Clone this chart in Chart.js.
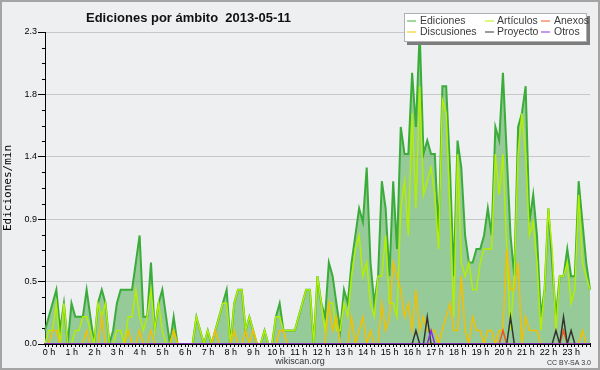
<!DOCTYPE html>
<html>
<head>
<meta charset="utf-8">
<script src="https://cdn.jsdelivr.net/npm/chart.js@4.4.1/dist/chart.umd.min.js"></script>
<style>
  html, body { margin: 0; padding: 0; background: #eeeff1; }
  canvas { display: block; }
</style>
</head>
<body>
<canvas id="chart" width="600" height="370"></canvas>
<script>
// ===============================
// DATA (edits per minute, one point every 10 min)
// ===============================

const titleText = 'Ediciones por ámbito  2013-05-11';

const hourLabels = [
    '0 h', '1 h', '2 h', '3 h', '4 h', '5 h', '6 h', '7 h', '8 h', '9 h', '10 h', '11 h',
    '12 h', '13 h', '14 h', '15 h', '16 h', '17 h', '18 h', '19 h', '20 h', '21 h', '22 h', '23 h'
];

const yMax = 2.3;
const yTickLabels = ['0.0', '0.5', '0.9', '1.4', '1.8', '2.3'];

const ediciones = [
    0.1, 0.2, 0.3, 0.4, 0.1, 0.3, 0, 0.3, 0.2, 0.2, 0.2, 0.4,
    0.2, 0, 0.3, 0.4, 0.3, 0, 0.1, 0.3, 0.4, 0.4, 0.4, 0.4,
    0.6, 0.8, 0.2, 0.2, 0.6, 0.1, 0.3, 0.4, 0.2, 0, 0.2, 0,
    0, 0, 0, 0, 0.2, 0.1, 0, 0.1, 0, 0.1, 0.2, 0.3,
    0.4, 0, 0.3, 0.4, 0.4, 0.1, 0.2, 0.1, 0, 0, 0.1, 0,
    0, 0.2, 0.3, 0.1, 0.1, 0.1, 0.1, 0.2, 0.3, 0.4, 0.4, 0,
    0.5, 0.3, 0.2, 0.6, 0.5, 0.3, 0.1, 0.4, 0.3, 0.6, 0.8, 1.0,
    0.9, 1.3, 0.6, 0.3, 0.5, 1.2, 1.0, 0.5, 1.2, 0.7, 1.6, 1.4,
    1.4, 2.0, 1.6, 2.3, 1.4, 1.5, 1.4, 1.4, 0.8, 1.9, 1.9, 1.3,
    0.5, 1.5, 1.3, 0.8, 0.6, 0.6, 0.7, 0.7, 0.8, 1.0, 0.8, 1.6,
    1.5, 2.0, 1.4, 0.8, 0.5, 1.6, 1.7, 1.9, 0.9, 1.1, 0.8, 0.2,
    0.4, 1.0, 0.6, 0.2, 0.5, 0.5, 0.7, 0.5, 0.5, 1.2, 0.9, 0.6,
    0.4
];

const articulos = [
    0, 0.1, 0.1, 0.3, 0, 0.3, 0, 0, 0.1, 0.1, 0.2, 0.2,
    0.1, 0, 0.3, 0.2, 0.3, 0, 0, 0.1, 0.1, 0, 0.2, 0.2,
    0.4, 0.2, 0.1, 0.2, 0.4, 0.1, 0.3, 0.1, 0, 0, 0.1, 0,
    0, 0, 0, 0, 0.2, 0.1, 0, 0.1, 0, 0.1, 0.2, 0.3,
    0.3, 0, 0.3, 0.4, 0.4, 0.1, 0.2, 0.1, 0, 0, 0.1, 0,
    0, 0.2, 0.2, 0.1, 0.1, 0.1, 0.1, 0.2, 0.3, 0.4, 0.4, 0,
    0.5, 0.3, 0.1, 0.3, 0.3, 0.1, 0.1, 0.3, 0.2, 0.5, 0.7, 0.8,
    0.5, 0.6, 0.3, 0.2, 0.5, 0.5, 0.8, 0.3, 0.3, 0.2, 1.0, 1.2,
    0.8, 1.7, 1.0, 1.9, 1.1, 1.2, 1.3, 1.1, 0.7, 1.8, 1.7, 1.0,
    0.2, 1.4, 0.6, 0.5, 0.6, 0.4, 0.4, 0.6, 0.7, 0.7, 0.7, 1.4,
    1.1, 1.4, 0.7, 0.1, 0.5, 1.4, 1.7, 1.4, 0.8, 0.9, 0.6, 0.1,
    0.4, 1.0, 0.7, 0.1, 0.5, 0.5, 0.6, 0.3, 0.4, 1.1, 0.6, 0.5,
    0.4
];

const discusiones = [
    0, 0, 0.1, 0.1, 0, 0, 0, 0, 0, 0, 0, 0.1,
    0, 0, 0, 0.2, 0, 0, 0, 0, 0, 0, 0.1, 0,
    0, 0.1, 0, 0, 0.1, 0, 0, 0, 0, 0, 0.1, 0,
    0, 0, 0, 0, 0, 0, 0, 0, 0, 0.1, 0, 0,
    0, 0, 0.1, 0, 0, 0.1, 0, 0.1, 0, 0, 0, 0,
    0, 0, 0.1, 0.1, 0, 0, 0, 0, 0, 0, 0, 0,
    0, 0, 0, 0.3, 0.1, 0.2, 0, 0, 0, 0.2, 0, 0.1,
    0.2, 0, 0.1, 0, 0, 0.3, 0.1, 0.2, 0.6, 0.5, 0.4, 0.2,
    0.3, 0.1, 0.4, 0.1, 0.2, 0.1, 0.1, 0.1, 0, 0.1, 0.2, 0.3,
    0.1, 0.1, 0.5, 0.1, 0, 0.2, 0.1, 0.1, 0, 0.1, 0.1, 0,
    0.1, 0.1, 0.7, 0.4, 0.4, 0.6, 0, 0.2, 0.1, 0.1, 0.1, 0,
    0, 0, 0, 0, 0, 0, 0, 0, 0, 0, 0.1, 0,
    0
];

const anexos = [
    0, 0, 0, 0, 0, 0, 0, 0, 0, 0, 0, 0,
    0, 0, 0, 0, 0, 0, 0, 0, 0, 0, 0, 0,
    0, 0, 0, 0, 0, 0, 0, 0, 0, 0, 0, 0,
    0, 0, 0, 0, 0, 0, 0, 0, 0, 0, 0, 0,
    0, 0, 0, 0, 0, 0, 0, 0, 0, 0, 0, 0,
    0, 0, 0, 0, 0, 0, 0, 0, 0, 0, 0, 0,
    0, 0, 0, 0, 0, 0, 0, 0, 0, 0, 0, 0,
    0, 0, 0, 0, 0, 0, 0, 0, 0, 0, 0, 0,
    0, 0, 0, 0, 0, 0, 0, 0, 0, 0, 0, 0,
    0, 0, 0, 0, 0, 0, 0, 0, 0, 0, 0, 0,
    0, 0.1, 0, 0, 0, 0, 0, 0, 0, 0, 0, 0,
    0, 0, 0, 0, 0, 0.1, 0, 0, 0, 0, 0, 0,
    0
];

const proyecto = [
    0, 0, 0, 0, 0, 0, 0, 0, 0, 0, 0, 0,
    0, 0, 0, 0, 0, 0, 0, 0, 0, 0, 0, 0,
    0, 0, 0, 0, 0, 0, 0, 0, 0, 0, 0, 0,
    0, 0, 0, 0, 0, 0, 0, 0, 0, 0, 0, 0,
    0, 0, 0, 0, 0, 0, 0, 0, 0, 0, 0, 0,
    0, 0, 0, 0, 0, 0, 0, 0, 0, 0, 0, 0,
    0, 0, 0, 0, 0, 0, 0, 0, 0, 0, 0, 0,
    0, 0, 0, 0, 0, 0, 0, 0, 0, 0, 0, 0,
    0, 0, 0.1, 0, 0, 0.2, 0, 0, 0, 0, 0, 0,
    0, 0, 0, 0, 0, 0, 0, 0, 0, 0, 0, 0,
    0, 0, 0, 0.2, 0, 0, 0, 0, 0, 0, 0, 0,
    0, 0, 0, 0.1, 0, 0.2, 0, 0.1, 0, 0, 0, 0,
    0
];

const otros = [
    0, 0, 0, 0, 0, 0, 0, 0, 0, 0, 0, 0,
    0, 0, 0, 0, 0, 0, 0, 0, 0, 0, 0, 0,
    0, 0, 0, 0, 0, 0, 0, 0, 0, 0, 0, 0,
    0, 0, 0, 0, 0, 0, 0, 0, 0, 0, 0, 0,
    0, 0, 0, 0, 0, 0, 0, 0, 0, 0, 0, 0,
    0, 0, 0, 0, 0, 0, 0, 0, 0, 0, 0, 0,
    0, 0, 0, 0, 0, 0, 0, 0, 0, 0, 0, 0,
    0, 0, 0, 0, 0, 0, 0, 0, 0, 0, 0, 0,
    0, 0, 0, 0, 0, 0, 0.1, 0, 0, 0, 0, 0,
    0, 0, 0, 0, 0, 0, 0, 0, 0, 0, 0, 0,
    0, 0, 0, 0, 0, 0, 0, 0, 0, 0, 0, 0,
    0, 0, 0, 0, 0, 0, 0, 0, 0, 0, 0, 0,
    0
];


// ===============================
// LABELS (one slot per 10 min, hour name on the hour)
// ===============================

let xLabels = ediciones.map((v, i) => {
    if (i % 6 === 0 && i / 6 < hourLabels.length) return hourLabels[i / 6];
    return '';
});

const FONT = '"Liberation Sans", Arial, sans-serif';

Chart.defaults.font.family = FONT;
Chart.defaults.color = '#000';


// ===============================
// DECORATION: background, frame, title, legend, footer
// ===============================

const legendSlots = [
    { ds: 0, col: 0, row: 0 },
    { ds: 1, col: 1, row: 0 },
    { ds: 3, col: 2, row: 0 },
    { ds: 2, col: 0, row: 1 },
    { ds: 4, col: 1, row: 1 },
    { ds: 5, col: 2, row: 1 }
];

const decor = {
    id: 'decor',

    beforeDraw(chart) {
        const ctx = chart.ctx;
        ctx.save();
        ctx.fillStyle = '#eeeff1';
        ctx.fillRect(0, 0, chart.width, chart.height);
        ctx.restore();
    },

    afterDraw(chart) {
        const ctx = chart.ctx;
        const yScale = chart.scales.y;
        ctx.save();

        // minor y ticks (4 per labelled step)
        ctx.strokeStyle = '#000';
        ctx.lineWidth = 1;
        ctx.beginPath();
        for (let k = 1; k < 20; k++) {
            if (k % 4 === 0) continue;
            const py = Math.round(yScale.getPixelForValue(yMax * k / 20)) + 0.5;
            ctx.moveTo(yScale.right - 3, py);
            ctx.lineTo(yScale.right, py);
        }
        ctx.stroke();

        // frame
        ctx.strokeStyle = '#a4a4a4';
        ctx.lineWidth = 2;
        ctx.strokeRect(1, 1, chart.width - 2, chart.height - 2);

        // title
        ctx.fillStyle = '#111';
        ctx.font = 'bold 13px ' + FONT;
        ctx.textBaseline = 'alphabetic';
        ctx.textAlign = 'left';
        ctx.fillText(titleText, 86, 22, 205);

        // legend box + shadow
        ctx.fillStyle = '#7d7d7d';
        ctx.fillRect(407, 16, 183, 29);
        ctx.fillStyle = '#ffffff';
        ctx.fillRect(404, 13, 183, 29);
        ctx.strokeStyle = '#b0b0b0';
        ctx.lineWidth = 1;
        ctx.strokeRect(404.5, 13.5, 182, 28);

        const colLine = [407, 485, 541];
        const colText = [420, 497, 554];
        const rowY = [21, 32];

        ctx.font = '10.5px ' + FONT;
        ctx.textBaseline = 'middle';
        legendSlots.forEach(s => {
            const ds = chart.data.datasets[s.ds];
            const y = rowY[s.row];
            ctx.globalAlpha = 0.65;
            ctx.strokeStyle = ds.borderColor;
            ctx.lineWidth = 1.5;
            ctx.beginPath();
            ctx.moveTo(colLine[s.col], y);
            ctx.lineTo(colLine[s.col] + 9, y);
            ctx.stroke();
            ctx.globalAlpha = 1;
            ctx.fillStyle = '#3a3a3a';
            ctx.fillText(ds.label, colText[s.col], y);
        });

        // footer
        ctx.fillStyle = '#333';
        ctx.textBaseline = 'alphabetic';
        ctx.textAlign = 'center';
        ctx.font = '9px ' + FONT;
        ctx.fillText('wikiscan.org', 300, 364);
        ctx.textAlign = 'right';
        ctx.font = '7px ' + FONT;
        ctx.fillText('CC BY-SA 3.0', 591, 365);

        ctx.restore();
    }
};


// ===============================
// CHART SETUP
// ===============================

const ctx = document.getElementById('chart').getContext('2d');

function lineSet(label, data, color, order, width) {
    return {
        label: label,
        data: data,
        borderColor: color,
        borderWidth: width,
        pointRadius: 0,
        tension: 0,
        fill: false,
        order: order
    };
}

let chart = new Chart(ctx, {

    type: 'line',

    data: {
        labels: xLabels,

        datasets: [
            {
                label: 'Ediciones',
                data: ediciones,
                borderColor: '#3aac3a',
                backgroundColor: 'rgba(80, 172, 80, 0.55)',
                borderWidth: 2,
                pointRadius: 0,
                tension: 0,
                fill: 'origin',
                order: 6
            },
            lineSet('Artículos', articulos, '#b2ef00', 5, 1.5),
            lineSet('Discusiones', discusiones, '#f2c000', 4, 1.5),
            lineSet('Anexos', anexos, '#f0561c', 3, 1.5),
            lineSet('Proyecto', proyecto, '#333333', 2, 1.5),
            lineSet('Otros', otros, '#8a2be2', 1, 1.5)
        ]
    },

    options: {
        responsive: false,
        animation: false,
        devicePixelRatio: 1,
        layout: {
            padding: { top: 32, right: 10, left: 0, bottom: 0 }
        },
        plugins: {
            legend: { display: false },
            tooltip: { enabled: false }
        },
        scales: {
            x: {
                type: 'category',
                z: 1,
                afterFit: s => { s.height = 26; },
                grid: {
                    drawOnChartArea: false,
                    tickLength: 3,
                    tickColor: '#000'
                },
                border: { color: '#000', width: 2 },
                ticks: {
                    autoSkip: false,
                    maxRotation: 0,
                    minRotation: 0,
                    padding: 0,
                    labelOffset: 4,
                    font: { size: 9 },
                    color: '#000'
                }
            },
            y: {
                min: 0,
                max: yMax,
                afterFit: s => { s.width = 45; },
                afterBuildTicks: s => {
                    s.ticks = yTickLabels.map((lab, k) => ({ value: yMax * k / (yTickLabels.length - 1) }));
                },
                grid: {
                    color: c => (c.index > 0) ? '#c8c8c8' : 'rgba(0,0,0,0)',
                    tickColor: '#000',
                    tickLength: 7
                },
                border: { color: '#000', width: 1 },
                ticks: {
                    padding: 1,
                    font: { size: 9 },
                    color: '#000',
                    callback: (v, i) => yTickLabels[i]
                },
                title: {
                    display: true,
                    text: 'Ediciones/min',
                    font: { size: 11, family: '"DejaVu Sans Mono", monospace' },
                    color: '#000',
                    padding: { top: 2, bottom: 0 }
                }
            }
        }
    },

    plugins: [decor]
});
</script>
</body>
</html>
